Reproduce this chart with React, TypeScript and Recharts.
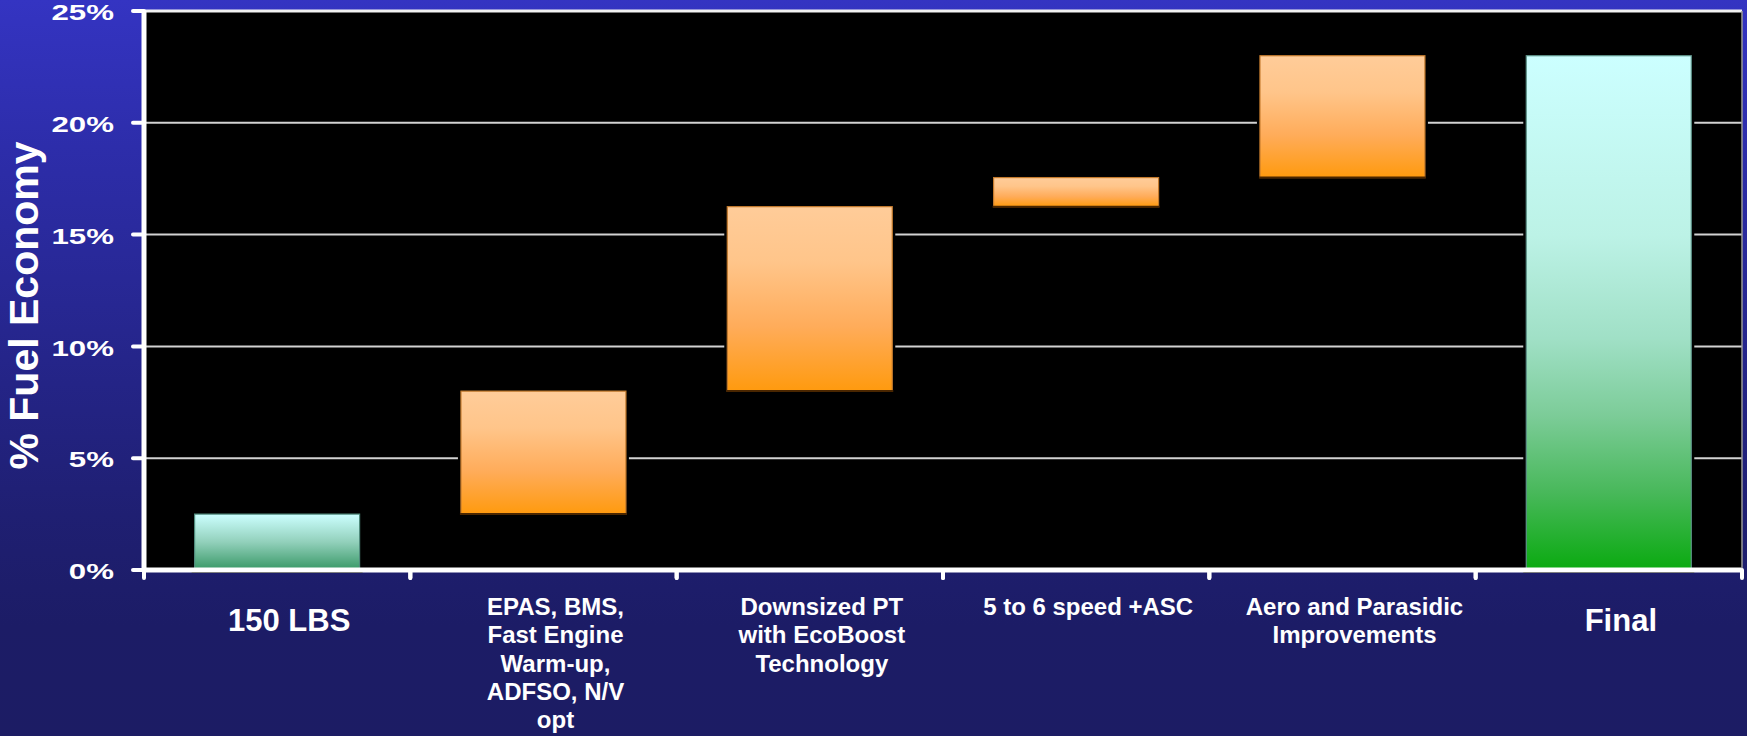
import React from 'react';
import { BarChart, Bar, XAxis, YAxis, CartesianGrid, ReferenceLine, Label } from 'recharts';

// ---- data ----
const categories = [
  '150 LBS',
  'EPAS, BMS, Fast Engine Warm-up, ADFSO, N/V opt',
  'Downsized PT with EcoBoost Technology',
  '5 to 6 speed +ASC',
  'Aero and Parasidic Improvements',
  'Final',
];
const labelLines = [
  ['150 LBS'],
  ['EPAS, BMS,', 'Fast Engine', 'Warm-up,', 'ADFSO, N/V', 'opt'],
  ['Downsized PT', 'with EcoBoost', 'Technology'],
  ['5 to 6 speed +ASC'],
  ['Aero and Parasidic', 'Improvements'],
  ['Final'],
];
// waterfall: each bar spans [start, end] in % fuel economy
const barStart = [0, 2.5, 8.0, 16.25, 17.55, 0];
const barEnd = [2.5, 8.0, 16.25, 17.55, 23.0, 23.0];
const barKind = ['start', 'step', 'step', 'step', 'step', 'total'];
const yTicks = [0, 5, 10, 15, 20, 25];

const data = categories.map((name, i) => ({
  name,
  range: [barStart[i], barEnd[i]],
  kind: barKind[i],
}));

// ---- layout ----
const W = 1747;
const H = 736;
const Y_AXIS_W = 144;
const RIGHT_AXIS_W = 5;
const PLOT_W = W - Y_AXIS_W - RIGHT_AXIS_W;
const HALF_BAND = PLOT_W / categories.length / 2;
const FONT = '"Liberation Sans", Arial, Helvetica, sans-serif';

const fillFor: Record<string, string> = {
  start: 'url(#gradStart)',
  step: 'url(#gradStep)',
  total: 'url(#gradTotal)',
};
const edgeFor: Record<string, string> = {
  start: '#4f8a7c',
  step: '#c47a2c',
  total: '#5f948a',
};

const WaterfallBar = (props: any) => {
  const { x, y, width, height, payload } = props;
  if (width == null || height == null) return null;
  const kind = payload.kind as string;
  const h = Math.abs(height);
  const top = height < 0 ? y + height : y;
  return (
    <g>
      {/* black halo so grid lines stop short of the bar */}
      <rect x={x - 3} y={top - 3} width={width + 6} height={h + 6} fill="#000" />
      <rect
        x={x}
        y={top}
        width={width}
        height={h}
        fill={fillFor[kind]}
        stroke={edgeFor[kind]}
        strokeWidth={1.2}
      />
      {kind === 'step' && (
        <line x1={x - 1} x2={x + width + 1} y1={top + h} y2={top + h} stroke="#4a2600" strokeWidth={2} />
      )}
    </g>
  );
};

const YTick = (props: any) => {
  const { x, y, payload } = props;
  return (
    <text
      transform={`translate(${x},${y}) scale(1.42,1)`}
      textAnchor="end"
      dy="0.42em"
      fill="#ffffff"
      fontSize={22}
      fontWeight="bold"
      fontFamily={FONT}
    >
      {`${payload.value}%`}
    </text>
  );
};

const XTick = (props: any) => {
  const { x, y, index } = props;
  const lines = labelLines[index] || [];
  const big = barKind[index] !== 'step';
  const tx = x + 12;
  return (
    <g>
      <line x1={x - HALF_BAND} x2={x - HALF_BAND} y1={y} y2={y + 8} stroke="#fff" strokeWidth={4} strokeLinecap="round" />
      <line x1={x + HALF_BAND} x2={x + HALF_BAND} y1={y} y2={y + 8} stroke="#fff" strokeWidth={4} strokeLinecap="round" />
      <text
        x={tx}
        y={y + (big ? 61 : 45)}
        textAnchor="middle"
        fill="#ffffff"
        fontSize={big ? 31 : 24}
        fontWeight="bold"
        fontFamily={FONT}
      >
        {lines.map((l, i) => (
          <tspan key={i} x={tx} dy={i === 0 ? 0 : 28.3}>
            {l}
          </tspan>
        ))}
      </text>
    </g>
  );
};

const YTitle = (props: any) => {
  const vb = props.viewBox || { x: 0, y: 0, width: 0, height: 0 };
  const cy = vb.y + vb.height / 2 + 15;
  return (
    <text
      transform={`translate(38,${cy}) rotate(-90)`}
      textAnchor="middle"
      fill="#ffffff"
      fontSize={41}
      fontWeight="bold"
      fontFamily={FONT}
    >
      % Fuel Economy
    </text>
  );
};

export default function App() {
  return (
    <div
      style={{
        position: 'absolute',
        left: 0,
        top: 0,
        width: W,
        height: H,
        background:
          'linear-gradient(to bottom, #3434c2 0%, #2d2daa 20%, #26268e 45%, #1f1f72 70%, #1c1c66 85%, #1c1c64 100%)',
      }}
    >
      <BarChart
        width={W}
        height={H}
        data={data}
        margin={{ top: 11, right: 0, bottom: 0, left: 0 }}
        barCategoryGap="19%"
      >
        <defs>
          <linearGradient id="gradStep" x1="0" y1="0" x2="0" y2="1">
            <stop offset="0%" stopColor="#ffcc99" />
            <stop offset="30%" stopColor="#ffc58a" />
            <stop offset="65%" stopColor="#ffac5a" />
            <stop offset="100%" stopColor="#ff9a0e" />
          </linearGradient>
          <linearGradient id="gradStart" x1="0" y1="0" x2="0" y2="1">
            <stop offset="0%" stopColor="#ccffff" />
            <stop offset="50%" stopColor="#92d0bb" />
            <stop offset="100%" stopColor="#389866" />
          </linearGradient>
          <linearGradient id="gradTotal" x1="0" y1="0" x2="0" y2="1">
            <stop offset="0%" stopColor="#ccffff" />
            <stop offset="35%" stopColor="#bcf2e6" />
            <stop offset="55%" stopColor="#a0e0c6" />
            <stop offset="70%" stopColor="#7ccc98" />
            <stop offset="85%" stopColor="#48b85a" />
            <stop offset="100%" stopColor="#0aaa10" />
          </linearGradient>
        </defs>
        <CartesianGrid vertical={false} stroke="#d2d2d2" strokeWidth={2} fill="#000000" />
        <ReferenceLine y={25} stroke="#f2f2f2" strokeWidth={3} />
        <Bar dataKey="range" isAnimationActive={false} shape={<WaterfallBar />} />
        <XAxis
          dataKey="name"
          interval={0}
          height={166}
          tickSize={0}
          tickMargin={0}
          tickLine={false}
          axisLine={{ stroke: '#ffffff', strokeWidth: 5 }}
          tick={<XTick />}
        />
        <YAxis
          width={Y_AXIS_W}
          domain={[0, 25]}
          ticks={yTicks}
          interval={0}
          tickSize={11}
          tickMargin={19}
          tickLine={{ stroke: '#ffffff', strokeWidth: 4, strokeLinecap: 'round' }}
          axisLine={{ stroke: '#ffffff', strokeWidth: 5 }}
          tick={<YTick />}
        >
          <Label content={<YTitle />} />
        </YAxis>
        <YAxis
          yAxisId="frame"
          orientation="right"
          width={RIGHT_AXIS_W}
          domain={[0, 25]}
          tick={false}
          tickLine={false}
          axisLine={{ stroke: '#9a9a9a', strokeWidth: 1.5 }}
        />
      </BarChart>
    </div>
  );
}
